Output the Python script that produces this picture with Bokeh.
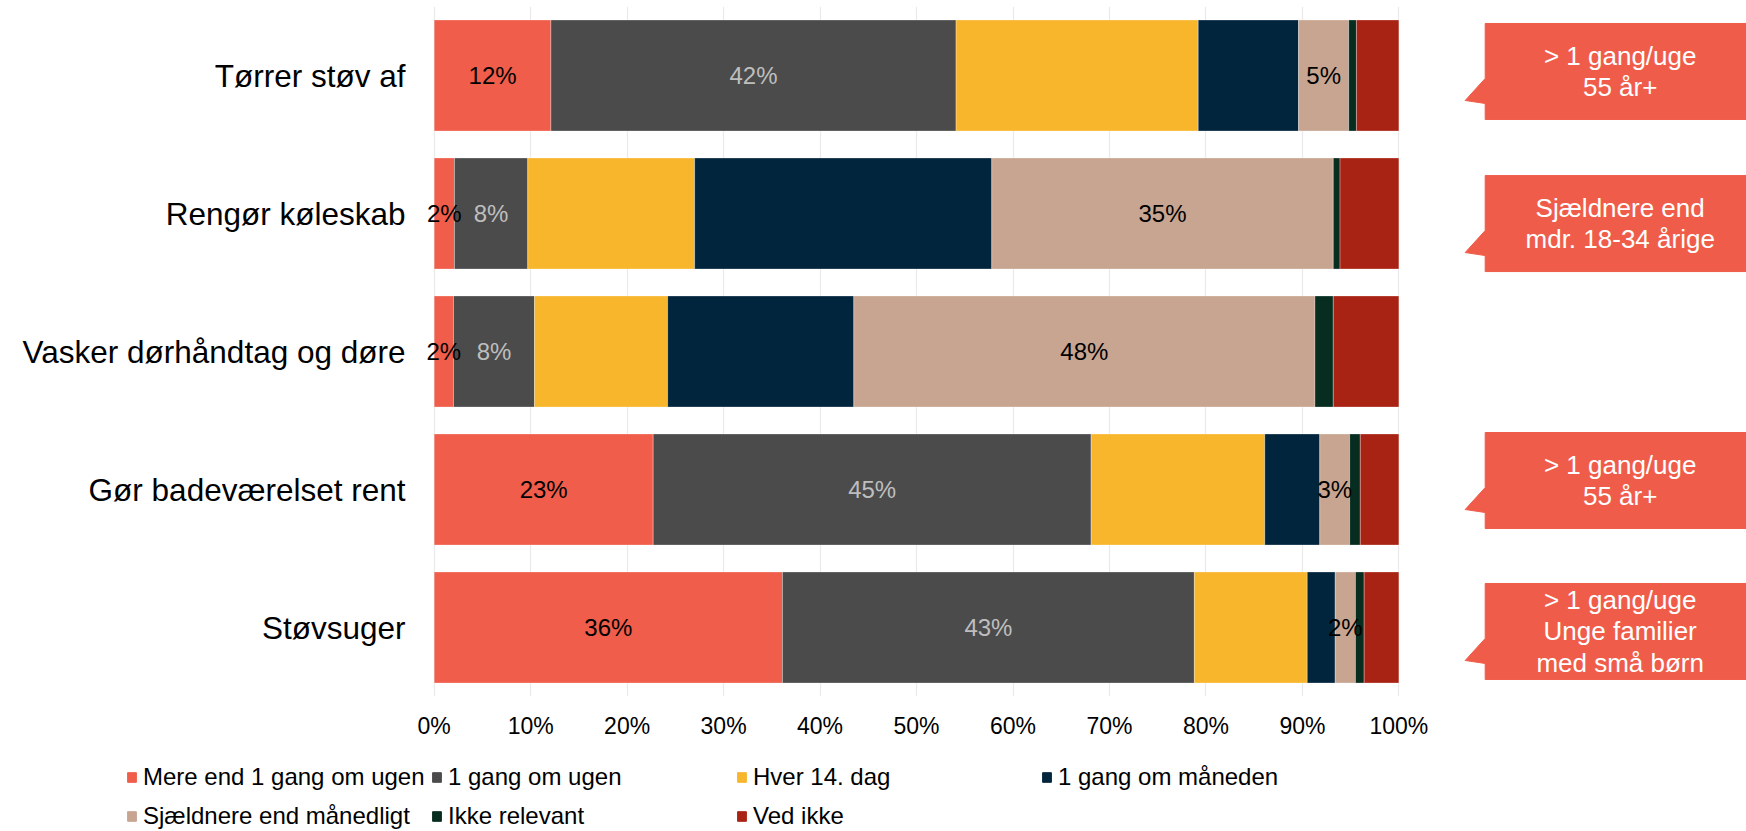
from bokeh.plotting import figure
from bokeh.models import (ColumnDataSource, FixedTicker, Range1d,
                          Legend, LegendItem)
from bokeh.embed import file_html
from bokeh.resources import INLINE
from bokeh.core.properties import value

# ---------------- data ----------------
categories = ["Tørrer støv af", "Rengør køleskab", "Vasker dørhåndtag og døre",
              "Gør badeværelset rent", "Støvsuger"]
series = ["Mere end 1 gang om ugen", "1 gang om ugen", "Hver 14. dag",
          "1 gang om måneden", "Sjældnere end månedligt", "Ikke relevant", "Ved ikke"]
mere_end_1_gang = [12.1, 2.1, 2.0, 22.7, 36.1]
en_gang_om_ugen = [42.0, 7.6, 8.4, 45.4, 42.7]
hver_14_dag = [25.1, 17.3, 13.8, 18.0, 11.7]
en_gang_om_maaneden = [10.4, 30.8, 19.3, 5.7, 2.9]
sjaeldnere = [5.2, 35.4, 47.8, 3.1, 2.1]
ikke_relevant = [0.8, 0.7, 1.9, 1.1, 0.9]
ved_ikke = [4.4, 6.1, 6.8, 4.0, 3.6]
tick_values = [0, 10, 20, 30, 40, 50, 60, 70, 80, 90, 100]
tick_labels = ["0%", "10%", "20%", "30%", "40%", "50%", "60%", "70%", "80%", "90%", "100%"]

labelled_series = [0, 1, 4]

callout_categories = ["Tørrer støv af", "Rengør køleskab", "Gør badeværelset rent", "Støvsuger"]
callout_texts = ["> 1 gang/uge\n55 år+", "Sjældnere end\nmdr. 18-34 årige",
                 "> 1 gang/uge\n55 år+", "> 1 gang/uge\nUnge familier\nmed små børn"]
callout_top_offsets = [0.377, 0.275, 0.413, 0.319]

# ---------------- style ----------------
colors = ["#F05D4A", "#4B4B4B", "#F8B62C", "#02253E", "#C8A590", "#062D20", "#A92314"]
label_colors = {0: "#000000", 1: "#BEBEBE", 4: "#000000"}
callout_color = "#EF5D4A"
FONT = "Liberation Sans"

W = 1746
MAIN_H, LEG_H = 752, 79
B_LEFT, B_TOP, B_BOTTOM = 425, 6, 56
X_START = -0.9
frame_w = W - B_LEFT
frame_h = MAIN_H - B_TOP - B_BOTTOM
px_per_pct = 9.647
x_end = X_START + frame_w / px_per_pct
n = len(categories)
px_per_cat = frame_h / n

# category slots: top category at the top
ypos = [n - i - 0.5 for i in range(n)]

all_series = [mere_end_1_gang, en_gang_om_ugen, hver_14_dag, en_gang_om_maaneden,
              sjaeldnere, ikke_relevant, ved_ikke]
keys = ["s%d" % i for i in range(len(series))]
data = {"y": ypos, "cat": categories}
for k, vals in zip(keys, all_series):
    data[k] = vals
source = ColumnDataSource(data)

p = figure(width=W, height=MAIN_H, output_backend="svg", toolbar_location=None,
           y_range=Range1d(0, n), x_range=Range1d(X_START, x_end),
           min_border_left=B_LEFT, min_border_right=0, min_border_top=B_TOP,
           min_border_bottom=B_BOTTOM, tools="")
p.outline_line_color = None
p.background_fill_color = "white"

p.hbar_stack(keys, y="y", height=0.805, color=colors, source=source,
             line_color="white", line_width=0.5, line_alpha=0.6)

# value labels
lx, ly, lt, lc = [], [], [], []
for ci in range(n):
    start = 0.0
    for si, vals in enumerate(all_series):
        v = vals[ci]
        if si in labelled_series:
            lx.append(start + v / 2.0)
            ly.append(ypos[ci])
            lt.append("%d%%" % round(v))
            lc.append(label_colors[si])
        start += v
p.text(x="x", y="y", text="t", text_color="c",
       source=ColumnDataSource(dict(x=lx, y=ly, t=lt, c=lc)),
       text_font=value(FONT), text_font_size="24px",
       text_align="center", text_baseline="middle")

# callouts (offsets measured in screen px from the 0% line)
box_h = 96 / px_per_cat
box_left = 1051 / px_per_pct
tip_x = 1031 / px_per_pct
box_right = x_end + 2
text_x = 1186 / px_per_pct
xs, ys, tx, ty = [], [], [], []
for cat, off in zip(callout_categories, callout_top_offsets):
    center = ypos[categories.index(cat)]
    top = center + off
    bot = top - box_h
    up = top - 55 / px_per_cat
    tip = top - 77 / px_per_cat
    low = top - 80 / px_per_cat
    xs.append([box_left, box_right, box_right, box_left, box_left, tip_x, box_left])
    ys.append([top, top, bot, bot, low, tip, up])
    tx.append(text_x)
    ty.append((top + bot) / 2.0)
p.patches(xs, ys, fill_color=callout_color, line_color=callout_color)
p.text(x=tx, y=ty, text=callout_texts,
       text_font=value(FONT), text_font_size="26px", text_color="white",
       text_align="center", text_baseline="middle", text_line_height=1.05)

# axes
p.xaxis.ticker = FixedTicker(ticks=tick_values)
p.xaxis.major_label_overrides = {v: l for v, l in zip(tick_values, tick_labels)}
p.xaxis.major_label_text_font = FONT
p.xaxis.major_label_text_font_size = "23px"
p.xaxis.major_label_text_color = "#000000"
p.xaxis.major_label_standoff = 16
p.xaxis.axis_line_color = None
p.xaxis.major_tick_line_color = None
p.xaxis.minor_tick_line_color = None
p.xaxis.major_tick_out = 0
p.xaxis.major_tick_in = 0

p.yaxis.ticker = FixedTicker(ticks=ypos)
p.yaxis.major_label_overrides = {y: c for y, c in zip(ypos, categories)}
p.yaxis.major_label_text_font = FONT
p.yaxis.major_label_text_font_size = "31.5px"
p.yaxis.major_label_text_color = "#000000"
p.yaxis.major_label_standoff = 20
p.yaxis.axis_line_color = None
p.yaxis.major_tick_line_color = None
p.yaxis.minor_tick_line_color = None
p.yaxis.major_tick_out = 0
p.yaxis.major_tick_in = 0

p.xgrid.ticker = FixedTicker(ticks=tick_values)
p.xgrid.grid_line_color = "#EAEAEA"
p.xgrid.grid_line_width = 1.2
p.ygrid.grid_line_color = None

# ---------------- legend figure (separate root) ----------------
lg = figure(width=W, height=LEG_H, output_backend="svg", toolbar_location=None,
            x_range=Range1d(0, 1), y_range=Range1d(0, 1), tools="",
            x_axis_location=None, y_axis_location=None,
            min_border_left=0, min_border_right=0, min_border_top=0,
            min_border_bottom=0)
lg.outline_line_color = None
lg.xgrid.visible = False
lg.ygrid.visible = False
leg_renderers = []
for c in colors:
    # a zero-width bar outside the visible range: only its legend swatch shows
    r = lg.hbar(y="y", right="r", height=0.5, color=c,
                source=ColumnDataSource(dict(y=[-5], r=[0])))
    leg_renderers.append(r)
items = [LegendItem(label=s, renderers=[r]) for s, r in zip(series, leg_renderers)]
legend = Legend(items=items, orientation="horizontal", ncols=4,
                location=(126, -4.5),
                glyph_width=11, glyph_height=12, label_standoff=6,
                label_width=288, label_height=39, spacing=0,
                padding=0, margin=0, border_line_color=None,
                background_fill_alpha=0,
                label_text_font=FONT, label_text_font_size="24px",
                label_text_color="#000000")
lg.add_layout(legend)

open("out.html", "w").write(file_html([p, lg], INLINE))
